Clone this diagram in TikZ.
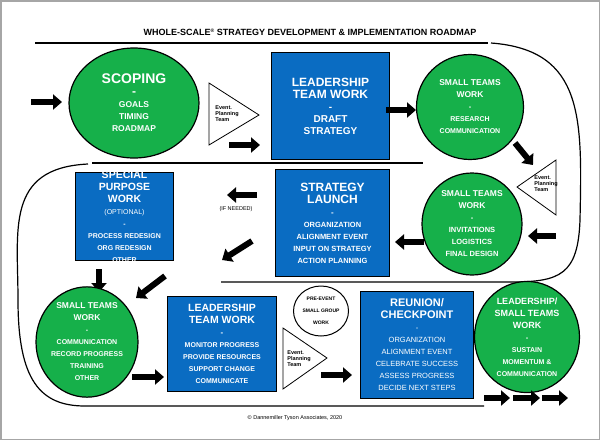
\documentclass[tikz,border=0pt]{standalone}
\usepackage{fontspec}
\setmainfont{Liberation Sans}
\usetikzlibrary{arrows.meta,shapes.geometric}
\definecolor{bx}{HTML}{0A6CC2}
\definecolor{gr}{HTML}{16B04A}
\newcommand{\fz}[1]{\fontsize{#1}{#1}\selectfont}
\tikzset{
 x=1pt,y=-1pt,
 circ/.style={ellipse,draw=black,line width=1.2pt,fill=gr,text=white,font=\bfseries,align=center,inner sep=0pt},
 box/.style={rectangle,draw=black,line width=1pt,fill=bx,anchor=north west,inner sep=0pt},
 btxt/.style={text=white,align=center,font=\bfseries},
 ba/.style={line width=6pt,-{Triangle[length=9pt,width=15pt]}},
 tri/.style={draw=black,line width=0.8pt,fill=white},
 small/.style={font=\bfseries\fontsize{5.5}{6}\selectfont,align=left},
 rule/.style={line width=1.2pt}
}
\begin{document}
\begin{tikzpicture}
\useasboundingbox (0,0) rectangle (600,440);
\draw[gray!70,line width=1.5pt] (0.75,0.75) rectangle (599.25,439.25);
\node (title) at (310,32) {\bfseries\fontsize{9}{10}\selectfont WHOLE-SCALE\raisebox{3pt}{\fontsize{5}{5}\selectfont\textregistered} STRATEGY DEVELOPMENT \& IMPLEMENTATION ROADMAP};
% rules
\draw[rule] (35,43) -- (488,43);
\draw[rule] (491,43) .. controls (585,50) and (582,120) .. (580,220) .. controls (578,275) and (560,282) .. (510,282) -- (221,282);
\draw[rule] (92,163) -- (423,163);
\draw[rule] (88,164) .. controls (5,168) and (18,230) .. (18,300) .. controls (18,380) and (40,406) .. (85,406) -- (484,406);
% top row
\node[circ,minimum width=130,minimum height=110] (sc) at (134,103) {\fz{14}SCOPING\\\fz{12}-\\\fz{8.5}GOALS\\\fz{8.5}TIMING\\\fz{8.5}ROADMAP};
\coordinate (a1s) at (31,102); \coordinate (a1e) at (62,102);
\draw[ba] (a1s) -- (a1e);
\path[tri] (209,83) -- (259,115) -- (209,145) -- cycle;
\node[small] (ept1) at (227,114) {Event.\\Planning\\Team};
\coordinate (a2s) at (229,145); \coordinate (a2e) at (260,145);
\draw[ba] (a2s) -- (a2e);
\node[box,minimum width=118,minimum height=107] (lt1) at (271,52) {};
\node[btxt] at (lt1.center) {\fz{12}LEADERSHIP\\\fz{12}TEAM WORK\\\fz{10}-\\\fz{10}DRAFT\\\fz{10}STRATEGY};
\coordinate (a3s) at (386,110); \coordinate (a3e) at (416,110);
\draw[ba] (a3s) -- (a3e);
\node[circ,minimum width=107,minimum height=105] (st1) at (470,107) {\fz{8.5}SMALL TEAMS\\\fz{8.5}WORK\\\fz{7.5}-\\\fz{7}RESEARCH\\\fz{7}COMMUNICATION};
\coordinate (a4s) at (515,143); \coordinate (a4e) at (533,165);
\draw[ba] (a4s) -- (a4e);
% middle row
\path[tri] (556,160) -- (517,187) -- (556,215) -- cycle;
\node[small] (ept2) at (546,184) {Event.\\Planning\\Team};
\node[circ,minimum width=100,minimum height=102] (st2) at (472,224) {\fz{8.5}SMALL TEAMS\\\fz{8.5}WORK\\\fz{7.5}-\\\fz{7.5}INVITATIONS\\\fz{7.5}LOGISTICS\\\fz{7.5}FINAL DESIGN};
\coordinate (a5s) at (556,236); \coordinate (a5e) at (528,236);
\draw[ba] (a5s) -- (a5e);
\coordinate (a6s) at (424,242); \coordinate (a6e) at (395,242);
\draw[ba] (a6s) -- (a6e);
\node[box,minimum width=114,minimum height=107] (sl) at (275,169) {};
\node[btxt] at (sl.center) {\fz{12}STRATEGY\\\fz{12}LAUNCH\\\fz{8}-\\\fz{7.5}ORGANIZATION\\\fz{7.5}ALIGNMENT EVENT\\\fz{7.5}INPUT ON STRATEGY\\\fz{7.5}ACTION PLANNING};
\coordinate (a7s) at (257,195); \coordinate (a7e) at (227,195);
\draw[ba] (a7s) -- (a7e);
\node[font=\fontsize{5.5}{6}\selectfont] (ifn) at (236,209) {(IF NEEDED)};
\node[box,minimum width=98,minimum height=88] (sp) at (75,172) {};
\node[btxt] at (sp.center) {\fz{10.5}SPECIAL\\\fz{10.5}PURPOSE\\\fz{10.5}WORK\\\mdseries\fz{7}(OPTIONAL)\\\fz{7}-\\\fz{7}PROCESS REDESIGN\\\fz{7}ORG REDESIGN\\\fz{7}OTHER};
\coordinate (a8s) at (252,241); \coordinate (a8e) at (222,260);
\draw[ba] (a8s) -- (a8e);
\coordinate (a9s) at (99,269); \coordinate (a9e) at (99,292);
\draw[ba] (a9s) -- (a9e);
\coordinate (a10s) at (165,276); \coordinate (a10e) at (136,298);
\draw[ba] (a10s) -- (a10e);
% bottom row
\node[circ,minimum width=102,minimum height=90] (st3) at (87,342) {\fz{8.5}SMALL TEAMS\\\fz{8.5}WORK\\\fz{7}-\\\fz{7}COMMUNICATION\\\fz{7}RECORD PROGRESS\\\fz{7}TRAINING\\\fz{7}OTHER};
\coordinate (a11s) at (132,377); \coordinate (a11e) at (164,377);
\draw[ba] (a11s) -- (a11e);
\node[box,minimum width=109,minimum height=95] (lt2) at (167,296) {};
\node[btxt] at (lt2.center) {\fz{10.5}LEADERSHIP\\\fz{10.5}TEAM WORK\\\fz{8}-\\\fz{7}MONITOR PROGRESS\\\fz{7}PROVIDE RESOURCES\\\fz{7}SUPPORT CHANGE\\\fz{7}COMMUNICATE};
\node[ellipse,draw=black,line width=1pt,fill=white,minimum width=55,minimum height=50,inner sep=0pt,align=center,font=\bfseries] (pre) at (321,311) {\fz{5}PRE-EVENT\\\fz{5}SMALL GROUP\\\fz{5}WORK};
\path[tri] (283,328) -- (327,358) -- (283,389) -- cycle;
\node[small] (ept3) at (299,359) {Event.\\Planning\\Team};
\coordinate (a12s) at (321,375); \coordinate (a12e) at (352,375);
\draw[ba] (a12s) -- (a12e);
\node[box,minimum width=113,minimum height=107] (rc) at (360,291) {};
\node[text=white,align=center] at (rc.center) {\bfseries\fz{11}REUNION/\\\bfseries\fz{11}CHECKPOINT\\\fz{7.5}-\\\fz{7.5}ORGANIZATION\\\fz{7.5}ALIGNMENT EVENT\\\fz{7.5}CELEBRATE SUCCESS\\\fz{7.5}ASSESS PROGRESS\\\fz{7.5}DECIDE NEXT STEPS};
\node[circ,minimum width=105,minimum height=102] (lst) at (527,337) {\fz{9}LEADERSHIP/\\\fz{9}SMALL TEAMS\\\fz{9}WORK\\\fz{7.5}-\\\fz{7}SUSTAIN\\\fz{7}MOMENTUM \&\\\fz{7}COMMUNICATION};
\coordinate (b1s) at (484,398); \coordinate (b1e) at (510,398);
\coordinate (b2s) at (513,398); \coordinate (b2e) at (540,398);
\coordinate (b3s) at (542,398); \coordinate (b3e) at (568,398);
\draw[ba] (b1s) -- (b1e); \draw[ba] (b2s) -- (b2e); \draw[ba] (b3s) -- (b3e);
\node[font=\fontsize{5.5}{6}\selectfont] (copy) at (295,418) {\textcopyright\ Dannemiller Tyson Associates, 2020};
\end{tikzpicture}
\end{document}
